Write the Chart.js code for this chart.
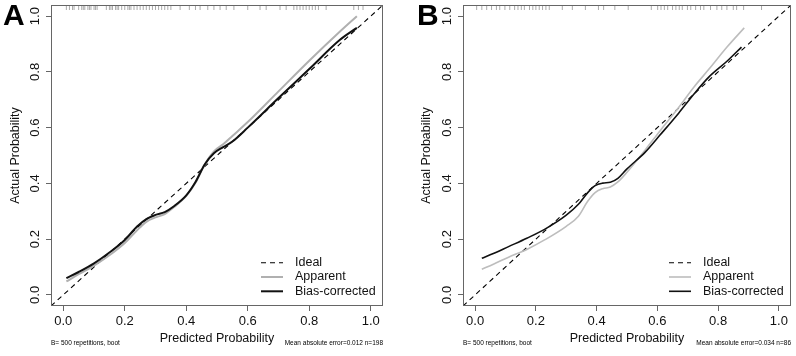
<!DOCTYPE html>
<html lang="en">
<head>
<meta charset="UTF-8">
<title>Calibration Curves</title>
<script src="https://cdn.jsdelivr.net/npm/chart.js"></script>
<style>
  body { margin: 0; background: #fff; }
  canvas { position: absolute; top: 0; }
</style>
</head>
<body>
<canvas id="chartA" width="398" height="356" style="left:0"></canvas>
<canvas id="chartB" width="398" height="356" style="left:398px"></canvas>
<script>
// shared axis settings
const tickValues = [0, 0.2, 0.4, 0.6, 0.8, 1.0];
const axisMin = -0.04, axisMax = 1.04;
const idealLine = [axisMin, axisMax];
const legendLabels = ['Ideal', 'Apparent', 'Bias-corrected'];

// panel A
const predA = [0.01, 0.05, 0.1, 0.15, 0.2, 0.24, 0.27, 0.3, 0.33, 0.36, 0.4, 0.43, 0.46, 0.49, 0.52, 0.55, 0.6, 0.7, 0.8, 0.9, 0.955];
const apparentA = [0.048, 0.074, 0.105, 0.142, 0.186, 0.232, 0.262, 0.278, 0.29, 0.315, 0.355, 0.402, 0.468, 0.515, 0.54, 0.57, 0.62, 0.73, 0.84, 0.945, 1.0];
const biasA = [0.06, 0.082, 0.113, 0.152, 0.197, 0.245, 0.272, 0.287, 0.297, 0.318, 0.357, 0.405, 0.468, 0.508, 0.53, 0.55, 0.6, 0.706, 0.81, 0.915, 0.958];
const rugA = [0.01, 0.02, 0.03, 0.035, 0.05, 0.06, 0.065, 0.07, 0.08, 0.085, 0.09, 0.1, 0.105, 0.11,
  0.14, 0.15, 0.155, 0.16, 0.17, 0.175, 0.18, 0.19, 0.2, 0.21, 0.215, 0.22, 0.23, 0.24, 0.25, 0.26,
  0.27, 0.28, 0.29, 0.3, 0.31, 0.32, 0.33, 0.34, 0.35, 0.38, 0.41, 0.43, 0.445, 0.47, 0.49, 0.51,
  0.53, 0.555, 0.6, 0.64, 0.66, 0.705, 0.725, 0.75, 0.76, 0.77, 0.78, 0.79, 0.8, 0.81, 0.82, 0.83,
  0.855, 0.945, 0.96, 0.975];

// panel B
const predB = [0.022, 0.06, 0.11, 0.17, 0.23, 0.3, 0.34, 0.37, 0.395, 0.42, 0.445, 0.47, 0.5, 0.56, 0.61, 0.67, 0.72, 0.77, 0.83, 0.877];
const biasB = [0.131, 0.148, 0.173, 0.203, 0.236, 0.286, 0.325, 0.366, 0.392, 0.401, 0.404, 0.418, 0.452, 0.512, 0.575, 0.652, 0.72, 0.782, 0.839, 0.889];
const predBApp = [0.022, 0.06, 0.11, 0.17, 0.23, 0.3, 0.34, 0.37, 0.395, 0.42, 0.445, 0.47, 0.5, 0.56, 0.61, 0.67, 0.72, 0.77, 0.83, 0.886];
const apparentB = [0.092, 0.11, 0.135, 0.163, 0.198, 0.246, 0.282, 0.335, 0.367, 0.381, 0.387, 0.405, 0.44, 0.52, 0.59, 0.672, 0.745, 0.81, 0.89, 0.958];
const rugB = [0.005, 0.022, 0.038, 0.054, 0.07, 0.081, 0.098, 0.114, 0.13, 0.141, 0.152, 0.162, 0.179,
  0.19, 0.2, 0.211, 0.222, 0.233, 0.244, 0.287, 0.32, 0.363, 0.406, 0.423, 0.46, 0.504, 0.58, 0.601,
  0.612, 0.623, 0.634, 0.65, 0.661, 0.672, 0.682, 0.699, 0.71, 0.726, 0.742, 0.753, 0.775, 0.796,
  0.812, 0.829, 0.85, 0.861, 0.884, 0.943];

const rugLevel = 1.031;  // rug ticks hang from the top of the box

Chart.defaults.font.family = '"Liberation Sans", Arial, Helvetica, sans-serif';

function framePlugin(cfg) {
  return {
    id: 'frame',
    afterDraw(chart) {
      const ctx = chart.ctx;
      const a = chart.chartArea;
      const ys = chart.scales.y;
      ctx.save();
      // box
      ctx.strokeStyle = '#666';
      ctx.lineWidth = 1;
      ctx.strokeRect(Math.round(a.left) + 0.5, Math.round(a.top) + 0.5,
        Math.round(a.right - a.left) - 1, Math.round(a.bottom - a.top) - 1);

      // rotated y tick labels, R style
      ctx.fillStyle = '#111';
      ctx.font = '13px "Liberation Sans", Arial, sans-serif';
      ctx.textAlign = 'center';
      ctx.textBaseline = 'middle';
      ys.ticks.forEach(t => {
        ctx.save();
        ctx.translate(a.left - 16, ys.getPixelForValue(t.value));
        ctx.rotate(-Math.PI / 2);
        ctx.fillText(t.value.toFixed(1), 0, 0);
        ctx.restore();
      });

      // legend
      const rows = [a.bottom - 43.3, a.bottom - 29, a.bottom - 14.7];
      const styles = [
        { color: '#000', width: 1.1, dash: [5, 4] },
        { color: cfg.appColor, width: cfg.appWidth, dash: [] },
        { color: '#111', width: cfg.biasWidth, dash: [] }
      ];
      legendLabels.forEach((lab, i) => {
        ctx.beginPath();
        ctx.setLineDash(styles[i].dash);
        ctx.strokeStyle = styles[i].color;
        ctx.lineWidth = styles[i].width;
        ctx.moveTo(a.right - 122, rows[i]);
        ctx.lineTo(a.right - 100, rows[i]);
        ctx.stroke();
        ctx.setLineDash([]);
        ctx.font = '12.5px "Liberation Sans", Arial, sans-serif';
        ctx.textAlign = 'left';
        ctx.fillStyle = '#111';
        ctx.fillText(lab, a.right - 88, rows[i]);
      });

      // panel letter
      ctx.font = 'bold 30px "Liberation Sans", Arial, sans-serif';
      ctx.textAlign = 'left';
      ctx.textBaseline = 'alphabetic';
      ctx.fillStyle = '#000';
      ctx.fillText(cfg.letter, cfg.letterX, 25);

      // footnotes
      ctx.font = '6.5px "Liberation Sans", Arial, sans-serif';
      ctx.fillText(cfg.noteLeft, a.left, 345);
      ctx.textAlign = 'right';
      ctx.fillText(cfg.noteRight, a.right, 345);
      ctx.restore();
    }
  };
}

function makePanel(id, cfg) {
  const pts = (xs, ys) => xs.map((x, i) => ({ x: x, y: ys[i] }));
  const fixTicks = s => { s.ticks = tickValues.map(v => ({ value: v })); };
  return new Chart(document.getElementById(id), {
    type: 'scatter',
    data: {
      datasets: [
        { label: 'Bias-corrected', data: pts(cfg.biasX, cfg.bias), showLine: true,
          borderColor: '#111', borderWidth: cfg.biasWidth, pointRadius: 0,
          cubicInterpolationMode: 'monotone' },
        { label: 'Apparent', data: pts(cfg.appX, cfg.app), showLine: true,
          borderColor: cfg.appColor, borderWidth: cfg.appWidth, pointRadius: 0,
          cubicInterpolationMode: 'monotone' },
        { label: 'Ideal', data: pts(idealLine, idealLine), showLine: true,
          borderColor: '#000', borderWidth: 1.1, borderDash: [5, 4], pointRadius: 0 },
        { label: 'rug', data: cfg.rug.map(x => ({ x: x, y: rugLevel })),
          pointStyle: 'line', pointRotation: 90, pointRadius: 2.5,
          borderColor: '#aaa', pointBorderColor: '#aaa', pointBorderWidth: 1 }
      ]
    },
    options: {
      responsive: false,
      animation: false,
      layout: { padding: cfg.padding },
      plugins: { legend: { display: false }, tooltip: { enabled: false } },
      scales: {
        x: {
          type: 'linear', min: axisMin, max: axisMax,
          afterBuildTicks: fixTicks,
          afterFit: s => { s.height = 50; },
          ticks: { callback: v => v.toFixed(1), font: { size: 13 }, color: '#111',
                   padding: 3, maxRotation: 0, autoSkip: false },
          grid: { drawOnChartArea: false, tickLength: 5, color: '#666' },
          border: { display: false },
          title: { display: true, text: 'Predicted Probability', color: '#111',
                   font: { size: 12.5 }, padding: { top: 0, bottom: 10 } }
        },
        y: {
          type: 'linear', min: axisMin, max: axisMax,
          afterBuildTicks: fixTicks,
          afterFit: s => { s.width = cfg.yWidth; },
          ticks: { display: false },
          grid: { drawOnChartArea: false, tickLength: 5, color: '#666' },
          border: { display: false },
          title: { display: true, text: 'Actual Probability', color: '#111',
                   font: { size: 12.5 }, padding: { top: 8, bottom: 0 } }
        }
      }
    },
    plugins: [framePlugin(cfg)]
  });
}

makePanel('chartA', {
  letter: 'A', letterX: 3,
  biasX: predA, bias: biasA, appX: predA, app: apparentA, rug: rugA,
  appColor: '#b0b0b0', appWidth: 2, biasWidth: 2,
  padding: { left: 0, right: 15, top: 4, bottom: 0 }, yWidth: 51,
  noteLeft: 'B= 500 repetitions, boot',
  noteRight: 'Mean absolute error=0.012 n=198'
});

makePanel('chartB', {
  letter: 'B', letterX: 19,
  biasX: predB, bias: biasB, appX: predBApp, app: apparentB, rug: rugB,
  appColor: '#bdbdbd', appWidth: 1.6, biasWidth: 1.6,
  padding: { left: 13, right: 1, top: 4, bottom: 0 }, yWidth: 52,
  noteLeft: 'B= 500 repetitions, boot',
  noteRight: 'Mean absolute error=0.034 n=86'
});
</script>
</body>
</html>
